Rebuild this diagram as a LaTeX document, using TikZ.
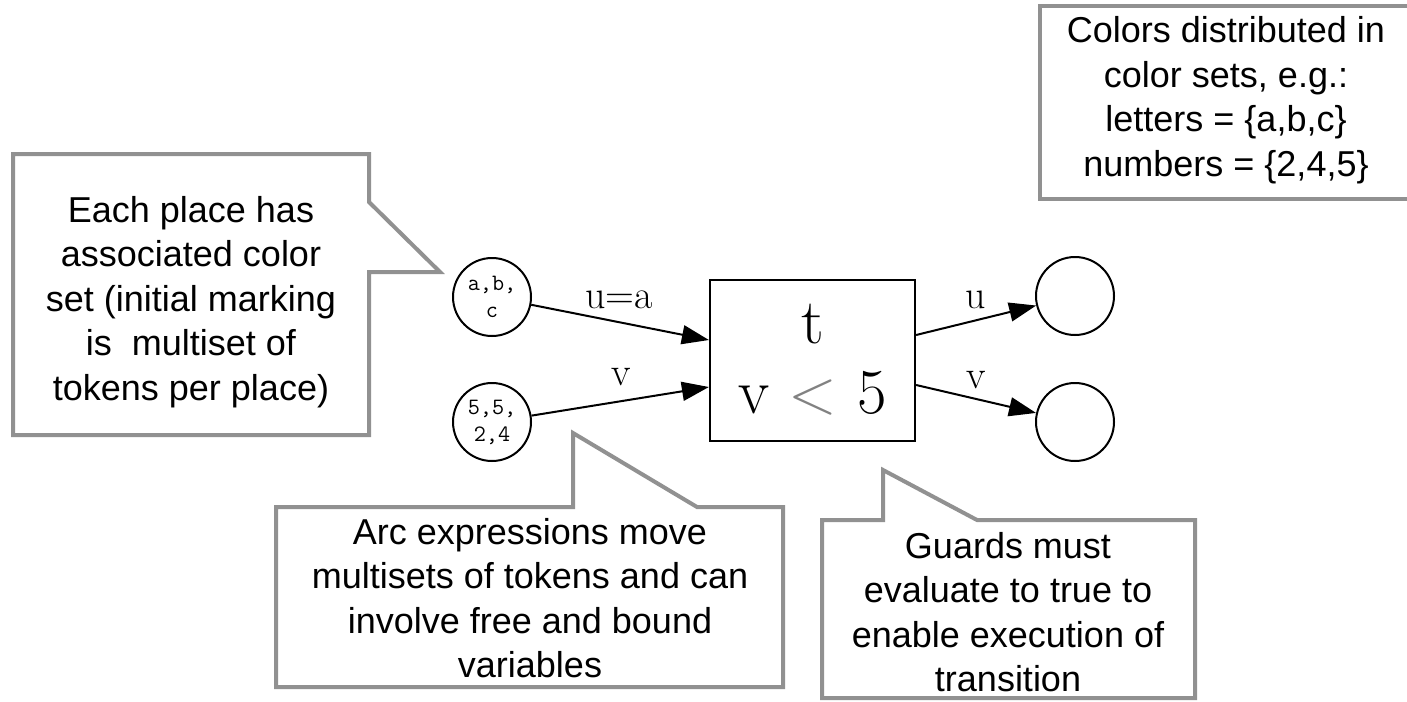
\documentclass[tikz,border=0pt]{standalone}
\usepackage{fontspec}
\newfontfamily\callfont{Liberation Sans}
\usetikzlibrary{arrows.meta}
\definecolor{callgray}{RGB}{145,145,145}
\definecolor{ltgray}{RGB}{130,130,130}
\begin{document}
\begin{tikzpicture}[x=1pt,y=-1pt,
  callout/.style={draw=callgray, line width=4pt, fill=white, line join=miter},
  calltext/.style={font=\callfont\fontsize{36}{44.5}\selectfont, align=center, inner sep=0pt},
  pplace/.style={circle, draw, line width=2pt, minimum size=78pt, inner sep=0pt, align=center, font=\ttfamily\fontsize{23.5}{27}\selectfont},
  ttrans/.style={rectangle, draw, line width=2.2pt, minimum width=205pt, minimum height=161pt, inner sep=0pt},
  bigtext/.style={font=\fontsize{64}{70}\selectfont, inner sep=0pt, anchor=base},
  arclabel/.style={font=\fontsize{40}{48}\selectfont, inner sep=0pt},
  flow/.style={line width=2pt, -{Triangle[length=27pt,width=19pt]}}
]
\useasboundingbox (0,0) rectangle (1407,701);
\clip (0,0) rectangle (1407,701);

% callouts
\draw[callout] (1040,6) rectangle (1425,199);
\node[calltext] (colors) at (1226,100) {Colors distributed in\\color sets, e.g.:\\letters = \{a,b,c\}\\numbers = \{2,4,5\}};

\draw[callout] (13,154) -- (369,154) -- (369,202) -- (440,272) -- (369,272) -- (369,435) -- (13,435) -- cycle;
\node[calltext] (placenote) at (191,302) {Each place has\\associated color\\set (initial marking\\is\ \ multiset of\\tokens per place)};

\draw[callout] (276,507) -- (573,507) -- (573,433) -- (697,507) -- (783,507) -- (783,687) -- (276,687) -- cycle;
\node[calltext] (arcnote) at (530,598) {Arc expressions move\\multisets of tokens and can\\involve free and bound\\variables};

\draw[callout] (822,520) -- (883,520) -- (883,470) -- (977,520) -- (1195,520) -- (1195,698) -- (822,698) -- cycle;
\node[calltext] (guardnote) at (1008,612) {Guards must\\evaluate to true to\\enable execution of\\transition};

% net
\node[pplace] (P1) at (492,297) {a,b,\\c};
\node[pplace] (P2) at (492,422) {5,5,\\2,4};
\node[ttrans] (T) at (812.5,360.5) {};
\node[bigtext] (tname) at (812.5,343) {t};
\node[bigtext] (tguard) at (812.5,413) {v {\color{ltgray}<} 5};
\node[pplace] (O1) at (1075,296) {};
\node[pplace] (O2) at (1075,422) {};

\draw[flow] (P1) -- ([yshift=20.5pt]T.west);
\draw[flow] (P2) -- ([yshift=-26.5pt]T.west);
\draw[flow] ([yshift=25.5pt]T.east) -- (O1);
\draw[flow] ([yshift=-24.5pt]T.east) -- (O2);

\node[arclabel] (l1) at (619,300) {u=a};
\node[arclabel] (l2) at (621,377) {v};
\node[arclabel] (l3) at (976,300) {u};
\node[arclabel] (l4) at (976,380) {v};
\end{tikzpicture}
\end{document}
